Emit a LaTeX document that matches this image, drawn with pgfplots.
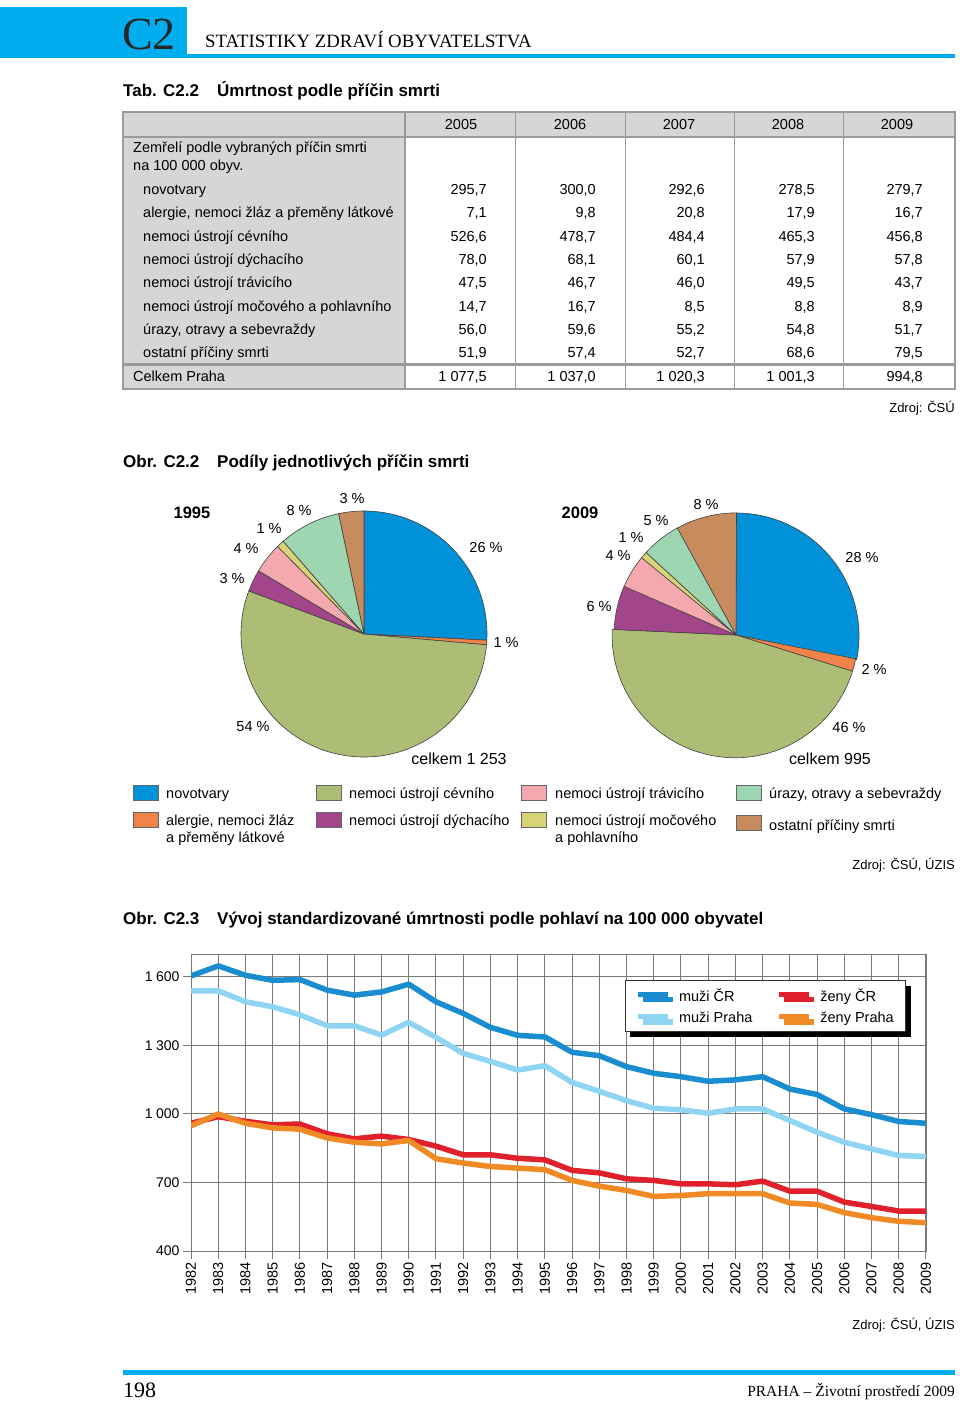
\documentclass[border=0pt]{standalone}
\usepackage{pgfplots}
\pgfplotsset{compat=1.18}
\usepackage{pgfplotstable}
\usepackage{fontspec}
\setmainfont{Liberation Sans}
\newfontfamily\serif{Liberation Serif}
\usetikzlibrary{shadows}

\definecolor{cyanhead}{HTML}{00AEEF}
\definecolor{tgray}{HTML}{D6D6D6}
\definecolor{tline}{HTML}{9A9A9A}
\definecolor{pc0}{HTML}{0091D9}
\definecolor{pc1}{HTML}{F0834A}
\definecolor{pc2}{HTML}{AEBD75}
\definecolor{pc3}{HTML}{A3458A}
\definecolor{pc4}{HTML}{F4A9AE}
\definecolor{pc5}{HTML}{D8D278}
\definecolor{pc6}{HTML}{9DD6B0}
\definecolor{pc7}{HTML}{C88B5E}
\definecolor{mcr}{HTML}{1A8DD0}
\definecolor{mpr}{HTML}{8FD4F2}
\definecolor{zcr}{HTML}{E0202A}
\definecolor{zpr}{HTML}{F08A24}
\definecolor{gridc}{HTML}{7A7A7A}

% standardizovana umrtnost na 100 000 obyvatel
\pgfplotstableread{
year mcr mpr zcr zpr
1982 1604 1539 959 948
1983 1648 1539 988 1000
1984 1607 1491 968 959
1985 1585 1469 952 939
1986 1588 1434 956 933
1987 1542 1386 913 895
1988 1520 1386 891 876
1989 1534 1345 903 869
1990 1568 1401 888 884
1991 1491 1335 859 804
1992 1440 1265 821 785
1993 1379 1230 821 770
1994 1344 1192 806 763
1995 1337 1211 799 756
1996 1270 1138 753 709
1997 1255 1099 742 684
1998 1207 1058 716 665
1999 1178 1025 709 639
2000 1163 1018 694 643
2001 1143 1003 694 651
2002 1149 1022 690 651
2003 1163 1022 706 651
2004 1109 971 662 610
2005 1085 920 662 604
2006 1022 876 614 568
2007 997 847 595 546
2008 967 818 575 530
2009 959 814 575 524
}\mort

% podily pricin smrti 1995 (v %)
\pgfplotstableread{
cat v
novotvary 25.8
alergie 0.6
cevni 54.3
dychaci 2.9
travici 4.0
mocove 1.0
urazy 8.1
ostatni 3.3
}\pieA

% 2009 (na 100 000 obyv.)
\pgfplotstableread{
cat v
novotvary 279.7
alergie 16.7
cevni 456.8
dychaci 57.8
travici 43.7
mocove 8.9
urazy 51.7
ostatni 79.5
}\pieB

\newcommand\drawpie[1]{%
  \def\tot{0}%
  \pgfplotsforeachungrouped \i in {0,...,7}{%
    \pgfplotstablegetelem{\i}{v}\of#1%
    \pgfmathsetmacro\tot{\tot+\pgfplotsretval}}%
  \def\cum{0}%
  \pgfplotsforeachungrouped \i in {0,...,7}{%
    \pgfplotstablegetelem{\i}{v}\of#1%
    \pgfmathsetmacro\aS{90-(\cum/\tot)*360}%
    \pgfmathsetmacro\cum{\cum+\pgfplotsretval}%
    \pgfmathsetmacro\aE{90-(\cum/\tot)*360}%
    \edef\temp{\noexpand\filldraw[fill=pc\i, draw=black!75, line width=0.6pt, line join=round]
      (axis cs:0,0) -- (axis cs:{cos(\aS)},{sin(\aS)}) arc[start angle=\aS, end angle=\aE, radius=123pt] -- cycle;}%
    \temp}%
}

\newcommand\trow[7]{%
  \node[tx] at (143,-#1-5) {#2};
  \node[tr] at (487,-#1-5) {#3};
  \node[tr] at (596,-#1-5) {#4};
  \node[tr] at (705,-#1-5) {#5};
  \node[tr] at (815,-#1-5) {#6};
  \node[tr] at (923,-#1-5) {#7};}

\begin{document}
\begin{tikzpicture}[x=1pt, y=1pt,
  tx/.style={inner sep=0pt, anchor=base west, font=\fontsize{14.5}{16}\selectfont},
  tr/.style={inner sep=0pt, anchor=base east, font=\fontsize{14.5}{16}\selectfont},
  tc/.style={inner sep=0pt, anchor=base, font=\fontsize{14.5}{16}\selectfont},
  pl/.style={inner sep=0pt, anchor=center, font=\fontsize{14.5}{16}\selectfont},
  src/.style={inner sep=0pt, anchor=base east, font=\fontsize{13}{16}\selectfont},
  ttl/.style={inner sep=0pt, anchor=base west, font=\fontsize{17}{20}\selectfont\bfseries}]
\useasboundingbox (0,0) rectangle (960,-1402);

% header
\fill[cyanhead] (0,-7) rectangle (187,-58);
\fill[cyanhead] (187,-54) rectangle (955,-58);
\node[inner sep=0pt, anchor=base west, font=\serif\fontsize{46}{50}\selectfont, text=black!85] at (122,-50) {C2};
\node[inner sep=0pt, anchor=base west, font=\serif\fontsize{18.8}{20}\selectfont] at (205,-48) {STATISTIKY ZDRAVÍ OBYVATELSTVA};

% table
\node[ttl] at (123,-97) {Tab. C2.2};
\node[ttl] at (217,-97) {Úmrtnost podle příčin smrti};
\fill[tgray] (123,-112) rectangle (955,-137);
\fill[tgray] (123,-137) rectangle (405,-389);
\draw[tline, line width=1.5pt] (123,-137) -- (955,-137);
\draw[tline, line width=3pt] (123,-364) -- (955,-364);
\foreach \xx in {515,625,734,843} \draw[tline, line width=1pt] (\xx,-112) -- (\xx,-389);
\draw[tline, line width=2pt] (405,-112) -- (405,-389);
\draw[tline, line width=1.5pt] (123,-112) rectangle (955,-389);
\foreach \yy/\lab in {461/2005,570/2006,679/2007,788/2008,897/2009}
  \node[tc] at (\yy,-130) {\lab};
\node[tx] at (133,-153) {Zemřelí podle vybraných příčin smrti};
\node[tx] at (133,-170) {na 100 000 obyv.};
\trow{189}{novotvary}{295,7}{300,0}{292,6}{278,5}{279,7}
\trow{212}{alergie, nemoci žláz a přeměny látkové}{7,1}{9,8}{20,8}{17,9}{16,7}
\trow{236}{nemoci ústrojí cévního}{526,6}{478,7}{484,4}{465,3}{456,8}
\trow{259}{nemoci ústrojí dýchacího}{78,0}{68,1}{60,1}{57,9}{57,8}
\trow{282}{nemoci ústrojí trávicího}{47,5}{46,7}{46,0}{49,5}{43,7}
\trow{306}{nemoci ústrojí močového a pohlavního}{14,7}{16,7}{8,5}{8,8}{8,9}
\trow{329}{úrazy, otravy a sebevraždy}{56,0}{59,6}{55,2}{54,8}{51,7}
\trow{352}{ostatní příčiny smrti}{51,9}{57,4}{52,7}{68,6}{79,5}
\node[tx] at (133,-381) {Celkem Praha};
\node[tr] at (487,-381) {1 077,5};
\node[tr] at (596,-381) {1 037,0};
\node[tr] at (705,-381) {1 020,3};
\node[tr] at (815,-381) {1 001,3};
\node[tr] at (923,-381) {994,8};
\node[src] at (955,-412) {Zdroj: ČSÚ};

% pies
\node[ttl] at (123,-467) {Obr. C2.2};
\node[ttl] at (217,-467) {Podíly jednotlivých příčin smrti};

\begin{axis}[at={(364pt,-634pt)}, anchor=center, scale only axis, width=246pt, height=246pt,
  xmin=-1, xmax=1, ymin=-1, ymax=1, hide axis, clip=false]
  \drawpie{\pieA}
\end{axis}
\begin{axis}[at={(736pt,-635pt)}, anchor=center, scale only axis, width=244pt, height=244pt,
  xmin=-1, xmax=1, ymin=-1, ymax=1, hide axis, clip=false]
  \drawpie{\pieB}
\end{axis}

\node[inner sep=0pt, anchor=center, font=\fontsize{16.5}{18}\selectfont\bfseries] at (192,-513) {1995};
\node[pl] at (299,-511) {8 \%};
\node[pl] at (352,-499) {3 \%};
\node[pl] at (269,-529) {1 \%};
\node[pl] at (246,-549) {4 \%};
\node[pl] at (232,-579) {3 \%};
\node[pl] at (486,-548) {26 \%};
\node[pl] at (506,-643) {1 \%};
\node[pl] at (253,-727) {54 \%};
\node[pl, font=\fontsize{16}{18}\selectfont] at (459,-759) {celkem 1 253};

\node[inner sep=0pt, anchor=center, font=\fontsize{16.5}{18}\selectfont\bfseries] at (580,-513) {2009};
\node[pl] at (706,-505) {8 \%};
\node[pl] at (656,-521) {5 \%};
\node[pl] at (631,-538) {1 \%};
\node[pl] at (618,-556) {4 \%};
\node[pl] at (599,-607) {6 \%};
\node[pl] at (862,-558) {28 \%};
\node[pl] at (874,-669) {2 \%};
\node[pl] at (849,-728) {46 \%};
\node[pl, font=\fontsize{16}{18}\selectfont] at (830,-759) {celkem 995};

% pie legend
\foreach \sx/\sy/\c in {133/793/pc0, 133/820/pc1, 316/793/pc2, 316/820/pc3, 521/793/pc4, 521/820/pc5, 736/793/pc6, 736/823/pc7}
  \filldraw[fill=\c, draw=black!60, line width=0.6pt] (\sx,-\sy+7.5) rectangle (\sx+25,-\sy-7.5);
\node[tx] at (166,-798) {novotvary};
\node[tx] at (166,-825) {alergie, nemoci žláz};
\node[tx] at (166,-842) {a přeměny látkové};
\node[tx] at (349,-798) {nemoci ústrojí cévního};
\node[tx] at (349,-825) {nemoci ústrojí dýchacího};
\node[tx] at (555,-798) {nemoci ústrojí trávicího};
\node[tx] at (555,-825) {nemoci ústrojí močového};
\node[tx] at (555,-842) {a pohlavního};
\node[tx] at (769,-798) {úrazy, otravy a sebevraždy};
\node[tx] at (769,-830) {ostatní příčiny smrti};
\node[src] at (955,-869) {Zdroj: ČSÚ, ÚZIS};

% line chart
\node[ttl] at (123,-924) {Obr. C2.3};
\node[ttl] at (217,-924) {Vývoj standardizované úmrtnosti podle pohlaví na 100 000 obyvatel};

\begin{axis}[at={(191pt,-1251pt)}, anchor=south west, scale only axis,
  width=735pt, height=297pt,
  xmin=1982, xmax=2009, ymin=400, ymax=1700,
  xtick={1982,...,2009}, ytick={400,700,1000,1300,1600},
  grid=major, major grid style={gridc, line width=1pt},
  axis line style={gridc, line width=1pt},
  tick style={gridc, line width=1pt}, major tick length=8pt, tick align=outside,
  tick pos=left,
  /pgf/number format/assume math mode=true,
  tick label style={font=\fontsize{14}{16}\selectfont},
  xticklabel style={rotate=90, anchor=east, font=\fontsize{14.5}{16}\selectfont, /pgf/number format/1000 sep={}},
  yticklabel style={/pgf/number format/1000 sep={\kern0.25em}},
  legend columns=2,
  legend cell align=left,
  legend image code/.code={\draw[#1, line width=5pt] (0pt,1pt) -- (30pt,1pt);},
  legend style={at={(rel axis cs:0.973,0.912)}, anchor=north east,
    draw=black!80, line width=0.8pt, fill=white,
    drop shadow={shadow xshift=5pt, shadow yshift=-5pt, opacity=1, fill=black},
    font=\fontsize{14.5}{16}\selectfont, inner xsep=10pt, inner ysep=6pt,
    row sep=5pt,
    /tikz/every odd column/.append style={column sep=7pt},
    /tikz/every even column/.append style={column sep=22pt}},
  every axis plot/.append style={line width=5.5pt, line join=round, no markers}]
  \addplot[mcr] table[x=year, y=mcr] {\mort};
  \addlegendentry{muži ČR}
  \addplot[zcr] table[x=year, y=zcr] {\mort};
  \addlegendentry{ženy ČR}
  \addplot[mpr] table[x=year, y=mpr] {\mort};
  \addlegendentry{muži Praha}
  \addplot[zpr] table[x=year, y=zpr] {\mort};
  \addlegendentry{ženy Praha}
\end{axis}

\node[src] at (955,-1329) {Zdroj: ČSÚ, ÚZIS};

% footer
\fill[cyanhead] (123,-1370) rectangle (955,-1375);
\node[inner sep=0pt, anchor=base west, font=\serif\fontsize{22}{24}\selectfont] at (123,-1397) {198};
\node[inner sep=0pt, anchor=base east, font=\serif\fontsize{15.5}{18}\selectfont] at (955,-1396) {PRAHA – Životní prostředí 2009};
\end{tikzpicture}
\end{document}
